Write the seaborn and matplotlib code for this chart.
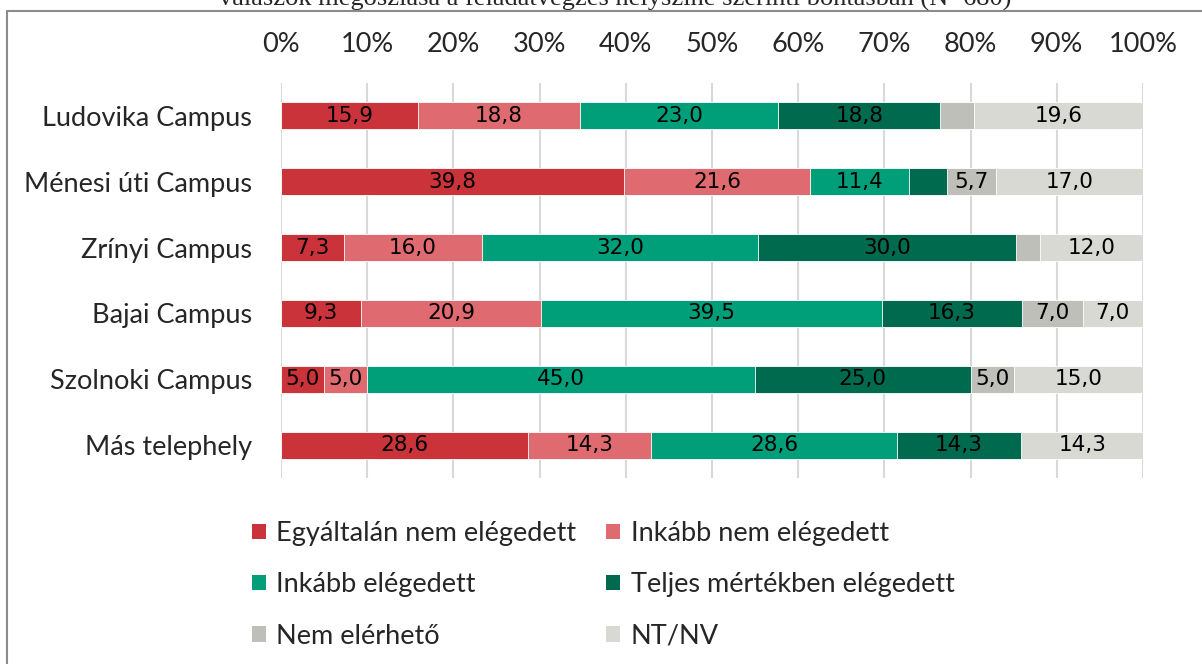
import pandas as pd
import seaborn as sns
import matplotlib.pyplot as plt
from matplotlib.patches import Patch
from matplotlib.lines import Line2D

sns.set_style("white")
plt.rcParams['font.family'] = ['Lato', 'DejaVu Sans']

# adatok
campuses = ['Ludovika Campus', 'Ménesi úti Campus', 'Zrínyi Campus',
            'Bajai Campus', 'Szolnoki Campus', 'Más telephely']
categories = ['Egyáltalán nem elégedett', 'Inkább nem elégedett', 'Inkább elégedett',
              'Teljes mértékben elégedett', 'Nem elérhető', 'NT/NV']
egyaltalan_nem = [15.9, 39.8, 7.3, 9.3, 5.0, 28.6]
inkabb_nem = [18.8, 21.6, 16.0, 20.9, 5.0, 14.3]
inkabb_elegedett = [23.0, 11.4, 32.0, 39.5, 45.0, 28.6]
teljesen = [18.8, 4.5, 30.0, 16.3, 25.0, 14.3]
nem_elerheto = [3.9, 5.7, 2.7, 7.0, 5.0, 0.0]
nt_nv = [19.6, 17.0, 12.0, 7.0, 15.0, 14.3]
ticks = [0, 10, 20, 30, 40, 50, 60, 70, 80, 90, 100]

colors = ['#CB333B', '#DF6B71', '#009E79', '#006A4E', '#BEBFB8', '#D9D9D4']

df = pd.DataFrame({'Campus': campuses})
for cat, vals in zip(categories, [egyaltalan_nem, inkabb_nem, inkabb_elegedett,
                                  teljesen, nem_elerheto, nt_nv]):
    df[cat] = vals
cum = df[categories].cumsum(axis=1)

fig = plt.figure(figsize=(12.02, 6.64), dpi=100)
ax = fig.add_axes([281 / 1202, 1 - 478 / 664, 862 / 1202, (478 - 83) / 664])

# egymásra rajzolt (kumulált) sávok, hátulról előre
for i in reversed(range(len(categories))):
    sns.barplot(x=cum[categories[i]], y=df['Campus'], orient='h', color=colors[i],
                saturation=1, width=0.41, edgecolor='white', linewidth=0.6, ax=ax)

# adatcímkék
for j in range(len(campuses)):
    left = 0
    for cat in categories:
        v = df[cat][j]
        if v >= 5:
            ax.text(left + v / 2, j, f'{v:.1f}'.replace('.', ','), ha='center', va='center',
                    fontsize=15.5, family=['Liberation Sans Narrow', 'DejaVu Sans'], color='black')
        left += v

ax.set_xlim(0, 100)
ax.xaxis.tick_top()
ax.set_xticks(ticks)
ax.set_xticklabels([f'{t}%' for t in ticks])
ax.tick_params(axis='x', length=0, pad=19, labelsize=19.5)
ax.tick_params(axis='y', length=0, pad=21, labelsize=19.5)
ax.set_xlabel('')
ax.set_ylabel('')
ax.grid(axis='x', color='#D9D9D9', linewidth=1.5)
ax.set_axisbelow(True)
for s in ax.spines.values():
    s.set_visible(False)

handles = [Patch(facecolor=c, edgecolor='none') for c in colors]
order = [0, 2, 4, 1, 3, 5]
fig.legend([handles[k] for k in order], [categories[k] for k in order],
           ncol=2, loc='upper left', bbox_to_anchor=(252 / 1202, 1 - 521 / 664),
           frameon=False, fontsize=19.5, handlelength=0.5, handleheight=0.5,
           handletextpad=0.4, columnspacing=1.1, labelspacing=0.97, borderaxespad=0,
           borderpad=0)

# levágott cím és keret
fig.text(615 / 1202, 1 - 6 / 664,
         'válaszok megoszlása a feladatvégzés helyszíne szerinti bontásban (N=680)',
         ha='center', va='baseline', fontsize=19, family='Liberation Serif')
fig.add_artist(Line2D([7 / 1202, 7 / 1202], [0, 1 - 11 / 664], color='#8C8C8C',
                      linewidth=1.5, transform=fig.transFigure))
fig.add_artist(Line2D([7 / 1202, 1], [1 - 11 / 664, 1 - 11 / 664], color='#8C8C8C',
                      linewidth=1.5, transform=fig.transFigure))

fig.savefig('out.png', dpi=100)
